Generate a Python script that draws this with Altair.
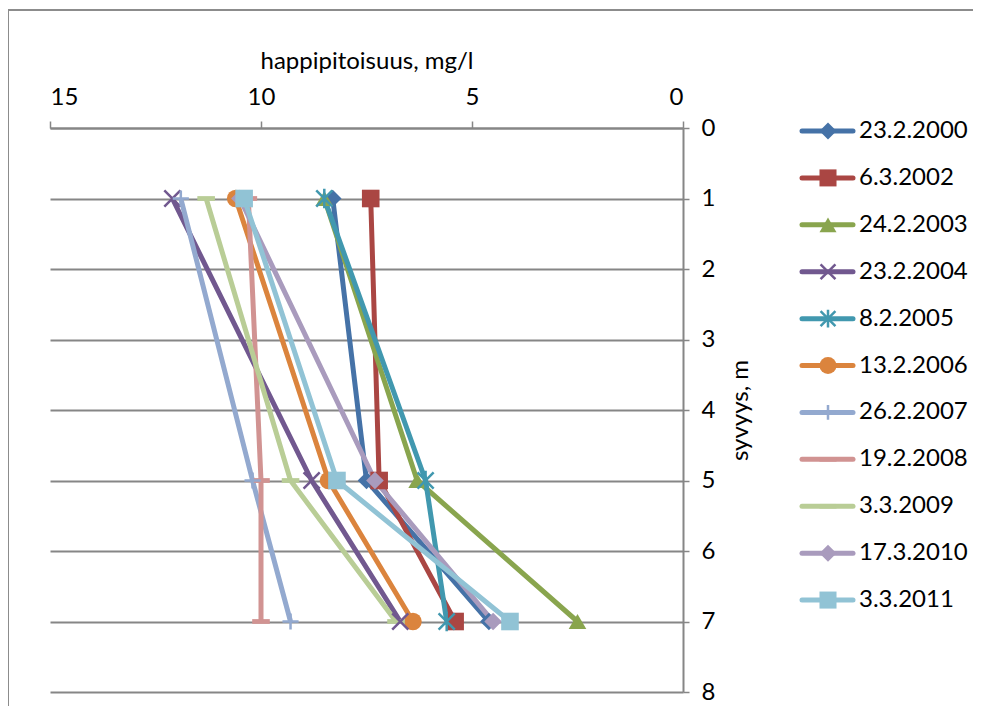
import altair as alt
import pandas as pd

# ---- data ----
dates = ["23.2.2000", "6.3.2002", "24.2.2003", "23.2.2004", "8.2.2005",
         "13.2.2006", "26.2.2007", "19.2.2008", "3.3.2009", "17.3.2010", "3.3.2011"]
depths = [1, 5, 7]
o2_2000 = [8.3, 7.5, 4.6]
o2_2002 = [7.4, 7.2, 5.4]
o2_2003 = [8.5, 6.3, 2.5]
o2_2004 = [12.1, 8.8, 6.7]
o2_2005 = [8.5, 6.1, 5.6]
o2_2006 = [10.6, 8.4, 6.4]
o2_2007 = [11.9, 10.2, 9.3]
o2_2008 = [10.3, 10.0, 10.0]
o2_2009 = [11.3, 9.3, 6.8]
o2_2010 = [10.5, 7.3, 4.5]
o2_2011 = [10.4, 8.2, 4.1]
series_values = [o2_2000, o2_2002, o2_2003, o2_2004, o2_2005, o2_2006,
                 o2_2007, o2_2008, o2_2009, o2_2010, o2_2011]

# ---- styles ----
colors = ["#4572A7", "#AA4643", "#89A54E", "#71588F", "#4198AF", "#DB843D",
          "#93A9CF", "#D19392", "#B9CD96", "#A99BBD", "#91C3D5"]
X_PATH = "M-1,-1L1,1M-1,1L1,-1"
AST_PATH = "M-1,-1L1,1M-1,1L1,-1M0,-1.2L0,1.2"
PLUS_PATH = "M-1,0L1,0M0,-1L0,1"
DASH_PATH = "M-1,-0.27L1,-0.27L1,0.27L-1,0.27Z"
shapes = ["diamond", "square", "triangle-up", X_PATH, AST_PATH, "circle",
          PLUS_PATH, DASH_PATH, DASH_PATH, "diamond", "square"]
stroked = [False, False, False, True, True, False, True, False, False, False, False]

rows = []
legend_rows = []
for i, (d, vals) in enumerate(zip(dates, series_values)):
    for dep, v in zip(depths, vals):
        rows.append(dict(key=f"{i:02d}", date=d, depth=dep, o2=v,
                         color=colors[i], shape=shapes[i], stroked=stroked[i]))
    legend_rows.append(dict(row=i, date=d, color=colors[i], shape=shapes[i],
                            stroked=stroked[i]))
df = pd.DataFrame(rows)
ldf = pd.DataFrame(legend_rows)

FONT = "Lato"
GRAY = "#868686"

x_enc = alt.X("o2:Q",
              scale=alt.Scale(domain=[0, 15], reverse=True, nice=False, zero=False),
              axis=alt.Axis(orient="top", values=[0, 5, 10, 15], grid=False,
                            title="happipitoisuus, mg/l", titleFontSize=24,
                            titleFontWeight="normal", titleFont=FONT,
                            titleBaseline="middle", titleY=-67,
                            labelFontSize=24, labelFont=FONT, labelPadding=12,
                            tickSize=7, tickColor=GRAY, tickWidth=1.5,
                            domainColor=GRAY, domainWidth=2, labelColor="black",
                            titleColor="black"))
y_enc = alt.Y("depth:Q",
              scale=alt.Scale(domain=[0, 8], reverse=True, nice=False, zero=False),
              axis=alt.Axis(orient="right", values=list(range(9)), grid=True,
                            gridColor=GRAY, gridWidth=2,
                            title="syvyys, m", titleFontSize=24, titleFont=FONT,
                            titleFontWeight="normal", titleAngle=270,
                            titleX=57, titleY=282, titleAlign="center",
                            titleBaseline="middle",
                            labelFontSize=24, labelFont=FONT, labelPadding=12,
                            labelBaseline="middle",
                            tickSize=6, tickColor=GRAY, tickWidth=1.5,
                            domainColor=GRAY, domainWidth=2, labelColor="black",
                            titleColor="black"))
color_enc = alt.Color("color:N", scale=None)
shape_enc = alt.Shape("shape:N", scale=None)

one = pd.DataFrame({"a": [0]})
border_top = alt.Chart(one).mark_rule(stroke="#8c8c8c", strokeWidth=2).encode(
    x=alt.value(-42), x2=alt.value(1000), y=alt.value(-118))
border_left = alt.Chart(one).mark_rule(stroke="#8c8c8c", strokeWidth=2).encode(
    x=alt.value(-42), y=alt.value(-119), y2=alt.value(720))

lines = alt.Chart(df).mark_line(strokeWidth=5, strokeJoin="round", strokeCap="butt").encode(
    x=x_enc, y=y_enc, color=color_enc, detail="key:N", order="depth:Q")

pts_fill = alt.Chart(df).transform_filter("!datum.stroked").mark_point(
    filled=True, opacity=1, size=310).encode(
    x=x_enc, y=y_enc, color=color_enc, shape=shape_enc)

pts_stroke = alt.Chart(df).transform_filter("datum.stroked").mark_point(
    filled=False, opacity=1, size=260, strokeWidth=2.5).encode(
    x=x_enc, y=y_enc, color=color_enc, shape=shape_enc)

main = alt.layer(border_top, border_left, lines, pts_fill, pts_stroke)

ly = alt.Y("row:Q", scale=alt.Scale(domain=[-0.064, 11.96], reverse=True,
                                     nice=False, zero=False), axis=None)
leg_rule = alt.Chart(ldf).mark_rule(strokeWidth=5, strokeCap="round").encode(
    x=alt.value(752), x2=alt.value(803), y=ly, color=color_enc)
leg_fill = alt.Chart(ldf).transform_filter("!datum.stroked").mark_point(
    filled=True, opacity=1, size=290).encode(
    x=alt.value(778), y=ly, color=color_enc, shape=shape_enc)
leg_stroke = alt.Chart(ldf).transform_filter("datum.stroked").mark_point(
    filled=False, opacity=1, size=220, strokeWidth=2.5).encode(
    x=alt.value(778), y=ly, color=color_enc, shape=shape_enc)
leg_text = alt.Chart(ldf).mark_text(align="left", baseline="middle",
                                    fontSize=24, font=FONT, color="black").encode(
    x=alt.value(809), y=ly, text="date:N")
legend = alt.layer(leg_rule, leg_fill, leg_stroke, leg_text)

chart = alt.layer(main, legend).resolve_scale(y="independent").properties(
    width=633, height=564,
    autosize=alt.AutoSizeParams(type="none"),
    padding={"left": 42, "top": 120, "right": 290, "bottom": 14},
    background="white",
).configure_view(stroke=None)

chart.save("out.html", embed_options={"renderer": "svg", "actions": False})
